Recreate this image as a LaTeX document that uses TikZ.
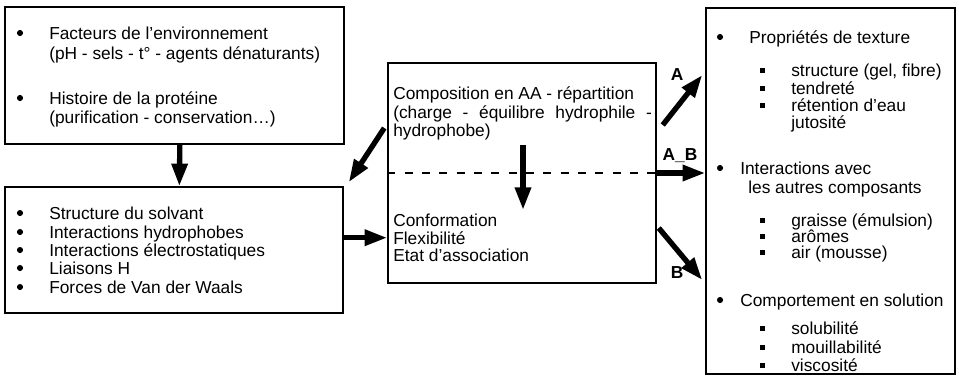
\documentclass[tikz,border=0pt]{standalone}
\usepackage{fontspec}
\setmainfont{Liberation Sans}
\usetikzlibrary{arrows.meta, fit}

\begin{document}
\begin{tikzpicture}[x=0.75pt, y=-0.75pt, font=\fontsize{13}{15}\selectfont]
        \tikzstyle{cadre}   = [draw, line width=1.1pt, inner sep=0pt]
        \tikzstyle{texte}   = [anchor=base west, inner sep=0pt]
        \tikzstyle{fleche}  = [line width=4pt, -{Triangle[length=17pt, width=11.5pt]}]
        \tikzstyle{tirets}  = [line width=1.4pt, dash pattern=on 6pt off 7pt]
        \tikzstyle{lettre}  = [font=\fontsize{13}{15}\selectfont\bfseries, inner sep=0pt]

        \useasboundingbox (0,0) rectangle (959,379);

        % Les cadres.
        \node[cadre, fit={(5,7) (344,144)}]   (facteurs)   {};
        \node[cadre, fit={(5,187) (343,313)}] (forces)     {};
        \node[cadre, fit={(388,63) (656,283)}] (conform)   {};
        \node[cadre, fit={(706,8) (955,374)}]  (proprietes) {};

        % Cadre des facteurs.
        \foreach[count=\c] \y/\t in {33/{Facteurs de l’environnement},
                 53/{(pH - sels - t° - agents dénaturants)},
                 98/{Histoire de la protéine},
                 117/{(purification - conservation\ldots)}}
            \node[texte] (f\c) at (49,\y+6) {\t};
        \foreach \y in {33, 98}
            \fill (20,\y) circle (2.3pt);

        % Cadre des forces.
        \foreach[count=\c] \y/\t in {213/Structure du solvant,
                 232/Interactions hydrophobes,
                 250/Interactions électrostatiques,
                 268/Liaisons H,
                 287/Forces de Van der Waals} {
            \node[texte] (s\c) at (49,\y+6) {\t};
            \fill (20,\y) circle (2.3pt);
        }

        % Cadre central.
        \node[texte] (c1) at (393,99)  {Composition en AA - répartition};
        \node[texte] (c2) at (393,118) {\makebox[194pt][s]{(charge - équilibre hydrophile -}};
        \node[texte] (c3) at (393,136) {hydrophobe)};
        \node[texte] (conf) at (393,226) {Conformation};
        \node[texte] (flex) at (393,244) {Flexibilité};
        \node[texte] (etat) at (393,261) {Etat d’association};
        \draw[tirets] (conform.west) -- (conform.east);

        % Cadre des propriétés.
        \foreach[count=\c] \x/\y/\t in {749/37/{Propriétés de texture},
                 740/168/{Interactions avec},
                 748/187/{les autres composants},
                 740/300/{Comportement en solution}}
            \node[texte] (p\c) at (\x,\y+6) {\t};
        \foreach \y in {37, 168, 300}
            \fill (720,\y) circle (2.3pt);
        \foreach[count=\c] \y/\t/\b in {70/{structure (gel, fibre)}/1,
                 88/{tendreté}/1, 105/{rétention d’eau}/1, 122/{jutosité}/0,
                 220/{graisse (émulsion)}/1, 236/{arômes}/1, 252/{air (mousse)}/1,
                 328/{solubilité}/1, 347/{mouillabilité}/1, 365/{viscosité}/1} {
            \node[texte] (q\c) at (791,\y+6) {\t};
            \ifnum\b=1 \fill (759.5,\y-2.5) rectangle (764.5,\y+2.5); \fi
        }

        % Les fleches.
        \draw[fleche] ([xshift=4pt]facteurs.south) -- ([xshift=4pt]forces.north);
        \draw[fleche] ([shift={(-3,-45)}]conform.west) -- ([shift={(5,-4)}]forces.north east);
        \draw[fleche] (forces.east |- flex) -- (conform.west |- flex);
        \draw[fleche] ([shift={(1,-28)}]conform.center) -- ([shift={(1,37)}]conform.center);
        \draw[fleche] ([shift={(6,-48)}]conform.east) -- ([shift={(-3,-116)}]proprietes.west);
        \draw[fleche] (conform.east) -- (conform.east -| proprietes.west);
        \draw[fleche] ([shift={(2,55)}]conform.east) -- ([shift={(-3,89)}]proprietes.west);

        % Les lettres.
        \node[lettre] (a)  at (677,75)  {A};
        \node[lettre] (ab) at (680,156) {A\_B};
        \node[lettre] (b)  at (677,273) {B};
    \end{tikzpicture}
\end{document}
